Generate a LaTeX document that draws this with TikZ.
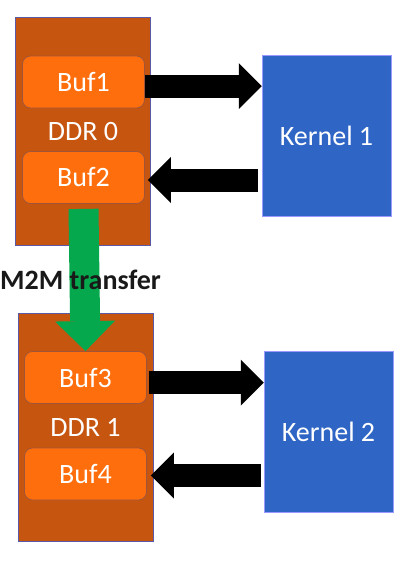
\documentclass[tikz,border=0pt]{standalone}
\usepackage{fontspec}
\setmainfont{Carlito}
\usetikzlibrary{arrows.meta}
\definecolor{ddrorange}{HTML}{C65510}
\definecolor{buforange}{HTML}{FF6E0C}
\definecolor{bufline}{HTML}{A0553A}
\definecolor{kernelblue}{HTML}{2F66C5}
\definecolor{m2mgreen}{HTML}{06A84E}

\begin{document}
\begin{tikzpicture}[x=1pt, y=-1pt,
                    every node/.style={font=\fontsize{28}{32}\selectfont, inner sep=0pt},
                    ddr_node/.style={rectangle, draw=blue!30!gray, line width=0.6pt, fill=ddrorange, text=white, minimum width=135pt, minimum height=228pt},
                    buf_node/.style={rectangle, rounded corners=8pt, draw=bufline, line width=0.8pt, fill=buforange, text=white, minimum width=122pt, minimum height=52pt},
                    kernel_node/.style={rectangle, draw=blue!40!white, line width=0.5pt, fill=kernelblue, text=white, minimum width=129pt, minimum height=161pt},
                    data_arrow/.style={draw=black, line width=23pt, -{Triangle[length=23pt, width=46pt, line width=0pt]}},
                    m2m_arrow/.style={draw=m2mgreen, line width=30pt, -{Triangle[length=30pt, width=60pt, line width=0pt]}}
                ]
    \fill[white] (0,0) rectangle (410,563);
    \useasboundingbox (0,0) rectangle (410,563);

    % DDR 0 with its two buffers
    \node[ddr_node] (ddr0) at (83,131.5) {DDR 0};
    \node[buf_node] (buf1) at (83.5,82) {Buf1};
    \node[buf_node] (buf2) at (83.5,177.5) {Buf2};

    % DDR 1 with its two buffers
    \node[ddr_node] (ddr1) at (85.5,427.5) {DDR 1};
    \node[buf_node] (buf3) at (85.5,377.5) {Buf3};
    \node[buf_node] (buf4) at (85.5,474) {Buf4};

    % kernels
    \node[kernel_node] (kernel1) at (326.5,135.5) {Kernel 1};
    \node[kernel_node] (kernel2) at (328.5,431.5) {Kernel 2};

    % reads and writes
    \draw[data_arrow] ([yshift=-4pt]buf1.east) -- ([yshift=-4pt]buf1.east -| kernel1.west);
    \draw[data_arrow] ([yshift=-2.5pt,xshift=-4pt]buf2.east -| kernel1.west) -- ([yshift=-2.5pt,xshift=3pt]buf2.east);
    \draw[data_arrow] ([yshift=-5pt,xshift=2pt]buf3.east) -- ([yshift=-5pt]buf3.east -| kernel2.west);
    \draw[data_arrow] ([yshift=-1.5pt,xshift=-3pt]buf4.east -| kernel2.west) -- ([yshift=-1.5pt,xshift=4pt]buf4.east);

    % memory to memory copy
    \draw[m2m_arrow] ([yshift=-5pt]buf2.south) -- (buf3.north);
    \node[anchor=west, text=black!90, font=\fontsize{28}{32}\selectfont\bfseries] (m2m) at (0,280) {M2M transfer};
\end{tikzpicture}
\end{document}
